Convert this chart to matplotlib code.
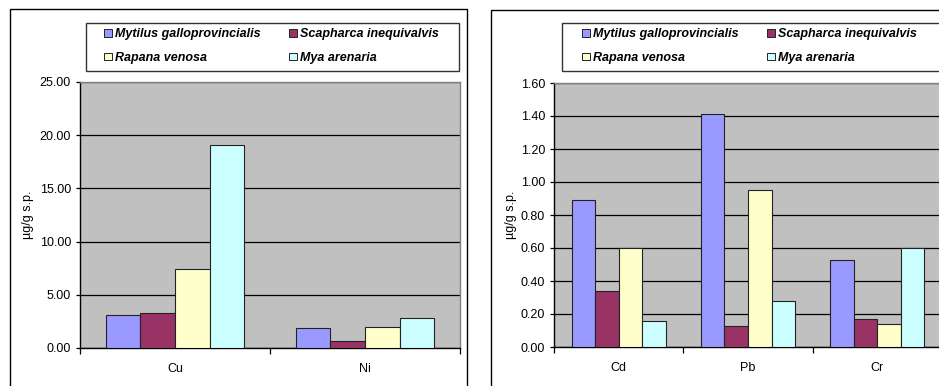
import matplotlib
matplotlib.use("Agg")
import matplotlib.pyplot as plt
from matplotlib.patches import Rectangle, Patch
import numpy as np

plt.rcParams['font.family'] = ['Liberation Sans', 'DejaVu Sans']

# Species and their bar colours
species = ["Mytilus galloprovincialis", "Scapharca inequivalvis",
           "Rapana venosa", "Mya arenaria"]
colors = ["#9999FF", "#993366", "#FFFFCC", "#CCFFFF"]

# Panel 1: copper and nickel (µg/g s.p.)
metals_1 = ["Cu", "Ni"]
mytilus_1 = [3.08, 1.85]
scapharca_1 = [3.25, 0.70]
rapana_1 = [7.40, 2.02]
mya_1 = [19.10, 2.80]
yticks_1 = [0, 5, 10, 15, 20, 25]

# Panel 2: cadmium, lead and chromium (µg/g s.p.)
metals_2 = ["Cd", "Pb", "Cr"]
mytilus_2 = [0.89, 1.41, 0.53]
scapharca_2 = [0.34, 0.13, 0.17]
rapana_2 = [0.60, 0.95, 0.14]
mya_2 = [0.16, 0.28, 0.60]
yticks_2 = [0.0, 0.2, 0.4, 0.6, 0.8, 1.0, 1.2, 1.4, 1.6]

W, H = 939, 386
fig = plt.figure(figsize=(W / 100, H / 100), dpi=100)
fig.patch.set_facecolor("white")


def px_box(x0, y0, x1, y1):
    """Convert a pixel box (top-left origin) to figure fractions."""
    return [x0 / W, 1 - y1 / H, (x1 - x0) / W, (y1 - y0) / H]


def draw_panel(ax, cats, series, yticks):
    bw = 0.182
    n = len(cats)
    ax.set_facecolor("#C0C0C0")
    for j, (vals, col) in enumerate(zip(series, colors)):
        x = np.arange(n) + 0.5 + (j - 1.5) * bw
        ax.bar(x, vals, width=bw, color=col, edgecolor="#222222",
               linewidth=0.8, zorder=3)
    ax.set_xlim(0, n)
    ax.set_ylim(yticks[0], yticks[-1])
    ax.set_yticks(yticks)
    ax.set_yticklabels([f"{t:.2f}" for t in yticks])
    ax.yaxis.grid(True, color="black", linewidth=0.9)
    ax.set_axisbelow(True)
    ax.set_xticks(np.arange(n + 1))
    ax.set_xticklabels([])
    ax.set_xticks(np.arange(n) + 0.5, minor=True)
    ax.set_xticklabels(cats, minor=True)
    ax.tick_params(axis="x", which="major", length=4, width=0.9,
                   direction="out", color="black")
    ax.tick_params(axis="x", which="minor", length=0, pad=11, labelsize=9)
    ax.tick_params(axis="y", length=3, width=0.9, pad=3.5, labelsize=9,
                   color="black")
    for s in ("left", "bottom"):
        ax.spines[s].set_color("black")
        ax.spines[s].set_linewidth(1.0)
    for s in ("top", "right"):
        ax.spines[s].set_color("#808080")
        ax.spines[s].set_linewidth(1.0)
    ax.set_ylabel("µg/g s.p.", fontsize=9)


def add_legend(ax, frame_box, x_marker):
    # legend fills columns first, so order entries to read row by row
    order = [0, 2, 1, 3]
    handles = [Patch(facecolor=colors[i], edgecolor="#222222", linewidth=0.7)
               for i in order]
    labels = [species[i] for i in order]
    fig.add_artist(Rectangle((frame_box[0], frame_box[1]), frame_box[2],
                             frame_box[3], transform=fig.transFigure,
                             facecolor="white", edgecolor="#333333",
                             linewidth=1.0, zorder=-1))
    leg = ax.legend(handles, labels, ncol=2, loc="upper left",
                    bbox_to_anchor=(x_marker / W, 1 - 28 / H),
                    bbox_transform=fig.transFigure,
                    borderaxespad=0, borderpad=0, frameon=False,
                    prop=dict(style="italic", weight="bold", size=9),
                    handlelength=0.6, handleheight=0.6, handletextpad=0.3,
                    labelspacing=0.95, columnspacing=2.25)
    return leg


# Outer chart borders
fig.add_artist(Rectangle((10 / W, -0.1), (467 - 10) / W, (H - 9) / H + 0.1,
                         transform=fig.transFigure, fill=False,
                         edgecolor="black", linewidth=1.0, zorder=-2))
fig.add_artist(Rectangle((491 / W, -0.1), 0.6, (H - 10) / H + 0.1,
                         transform=fig.transFigure, fill=False,
                         edgecolor="black", linewidth=1.0, zorder=-2))

ax1 = fig.add_axes(px_box(80, 82, 460, 348))
draw_panel(ax1, metals_1, [mytilus_1, scapharca_1, rapana_1, mya_1], yticks_1)
ax1.yaxis.set_label_coords((34 - 80) / 380, 0.5)
add_legend(ax1, px_box(86, 23, 459, 71), 104)

ax2 = fig.add_axes(px_box(554, 83, 942, 347))
draw_panel(ax2, metals_2, [mytilus_2, scapharca_2, rapana_2, mya_2], yticks_2)
ax2.yaxis.set_label_coords((517 - 554) / 388, 0.5)
add_legend(ax2, px_box(562, 23, 945, 71), 582)

fig.savefig("out.png", dpi=100)
